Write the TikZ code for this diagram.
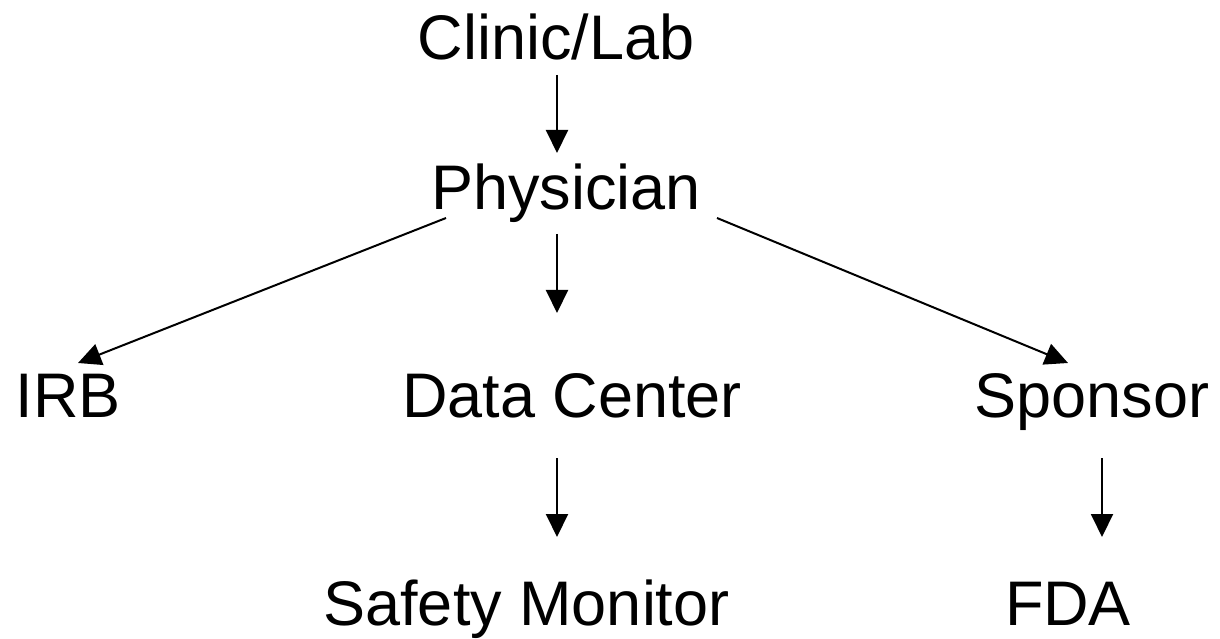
\documentclass[tikz,border=0pt]{standalone}
\usepackage{fontspec}
\setmainfont{Liberation Sans}
\usetikzlibrary{arrows.meta,calc}
\tikzset{
  lbl/.style={inner sep=0pt, outer sep=0pt, anchor=base, font=\fontsize{63}{75}\selectfont},
  arr/.style={line width=2pt, -{Triangle[width=22pt,length=23pt]}}
}
\begin{document}
\begin{tikzpicture}[x=1pt,y=1pt]
\useasboundingbox[fill=white] (0,0) rectangle (1220,638);
\node[lbl] (clinic) at (556,578) {Clinic/Lab};
\node[lbl] (phys) at (566,428) {Physician};
\node[lbl] (irb) at (68,221) {IRB};
\node[lbl] (dc) at (572,221) {Data Center};
\node[lbl] (sponsor) at (1092,221) {Sponsor};
\node[lbl] (sm) at (526.5,13) {Safety Monitor};
\node[lbl] (fda) at (1068,13) {FDA};
\draw[arr] ($(clinic.base)+(1,-15)$) -- ($(phys.base)+(-9,57)$);
\draw[arr] ($(phys.base)+(-120,-8)$) -- ($(irb.base)+(10,54)$);
\draw[arr] ($(phys.base)+(151,-8)$) -- ($(sponsor.base)+(-24,54)$);
\draw[arr] ($(phys.base)+(-9,-24)$) -- ($(dc.base)+(-15,104)$);
\draw[arr] ($(dc.base)+(-15,-41)$) -- ($(sm.base)+(30.5,88)$);
\draw[arr] ($(sponsor.base)+(10,-41)$) -- ($(fda.base)+(34,88)$);
\end{tikzpicture}
\end{document}
